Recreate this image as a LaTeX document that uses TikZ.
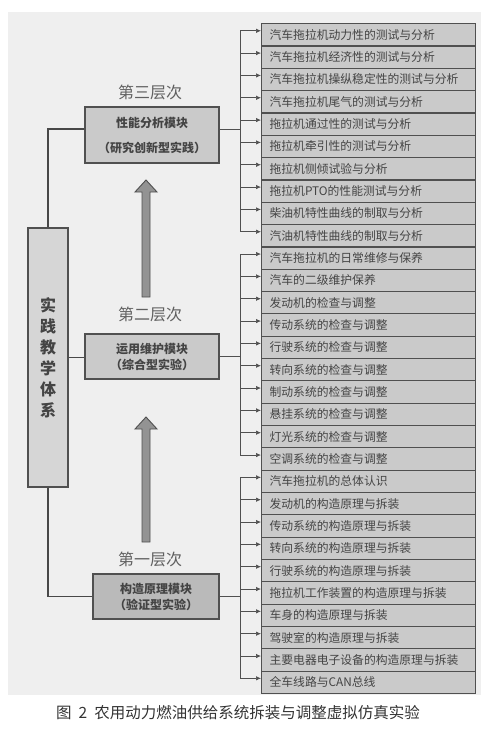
\documentclass[tikz,border=0pt]{standalone}
\usepackage{fontspec}
\setmainfont{Noto Sans CJK SC}
\usepackage{tikz}
\usetikzlibrary{calc}
\usetikzlibrary{positioning}
\usetikzlibrary{arrows.meta}
\definecolor{bggray}{HTML}{EFEFEF}
\definecolor{boxgray}{HTML}{CACACA}
\definecolor{sysgray}{HTML}{D6D6D6}
\definecolor{linegray}{HTML}{505050}
\definecolor{txtgray}{HTML}{444444}
\newcommand{\levelarrow}[3]{\filldraw[uparr] (#1-4,#2) -- (#1-4,#3+12) -- (#1-11,#3+12) -- (#1,#3) -- (#1+11,#3+12) -- (#1+4,#3+12) -- (#1+4,#2) -- cycle;}

\begin{document}
\begin{tikzpicture}[x=1pt,y=-1pt]
\tikzstyle{row}=[rectangle,draw=linegray,line width=1.2pt,fill=boxgray,anchor=north west,minimum width=214pt,minimum height=22.33pt,text width=198pt,inner xsep=8pt,align=left,text=txtgray,font=\fontsize{11.8}{14}\selectfont]
\tikzstyle{module}=[rectangle,draw=linegray,line width=1.2pt,fill=boxgray,align=center,text=txtgray,font=\bfseries\fontsize{12}{16}\selectfont]
\tikzstyle{level}=[text=txtgray!85,font=\fontsize{16}{18}\selectfont]
\tikzstyle{tip}=[draw=linegray,line width=0.7pt,-{Latex[length=5pt,width=4.5pt]}]
\tikzstyle{link}=[draw=linegray!90!black,line width=1.4pt]
\tikzstyle{uparr}=[draw=linegray,line width=0.9pt,fill=gray!85]
\useasboundingbox (0,0) rectangle (484,729);
\fill[bggray] (8,12) rectangle (481,695);
% right column
\foreach \t [count=\i] in {汽车拖拉机动力性的测试与分析,汽车拖拉机经济性的测试与分析,汽车拖拉机操纵稳定性的测试与分析,汽车拖拉机尾气的测试与分析,拖拉机通过性的测试与分析,拖拉机牵引性的测试与分析,拖拉机侧倾试验与分析,拖拉机PTO的性能测试与分析,柴油机特性曲线的制取与分析,汽油机特性曲线的制取与分析,
汽车拖拉机的日常维修与保养,汽车的二级维护保养,发动机的检查与调整,传动系统的检查与调整,行驶系统的检查与调整,转向系统的检查与调整,制动系统的检查与调整,悬挂系统的检查与调整,灯光系统的检查与调整,空调系统的检查与调整,
汽车拖拉机的总体认识,发动机的构造原理与拆装,传动系统的构造原理与拆装,转向系统的构造原理与拆装,行驶系统的构造原理与拆装,拖拉机工作装置的构造原理与拆装,车身的构造原理与拆装,驾驶室的构造原理与拆装,主要电器电子设备的构造原理与拆装,全车线路与CAN总线}
  \node[row] at(261, {23+22.33*(\i-1)}) (r\i) {\t};
\coordinate (bus) at(240, 0);
\foreach \i in {1,...,30}{
  \path ([yshift=4pt]r\i.west) coordinate (h\i) (h\i -| bus) coordinate (t\i);
  \draw[tip] (t\i) -- (h\i);
}
\draw[linegray,line width=0.7pt] (t1) -- (t10);
\draw[linegray,line width=0.7pt] (t11) -- (t20);
\draw[linegray,line width=0.7pt] (t21) -- (t30);
% modules
\node[module,minimum width=134pt,minimum height=56pt,font=\bfseries\fontsize{12}{25}\selectfont] at(152, 135) (m3) {性能分析模块\\（研究创新型实践）};
\node[module,minimum width=134pt,minimum height=45pt] at(152, 356.5) (m2) {运用维护模块\\（综合型实验）};
\node[module,minimum width=126pt,minimum height=45pt,fill=boxgray!92!black] at(156, 596.5) (m1) {构造原理模块\\（验证型实验）};
\node[level] at(150, 92) (l3) {第三层次};
\node[level] at(150, 314) (l2) {第二层次};
\node[level] at(150, 559) (l1) {第一层次};
\draw[linegray,line width=0.7pt] ([yshift=6pt]m3.east) -- ([yshift=6pt]m3.east -| bus);
\draw[linegray,line width=0.7pt] (m2.east) -- (m2.east -| bus);
\draw[linegray,line width=0.7pt] (m1.east) -- (m1.east -| bus);
% system box
\node[rectangle,draw=linegray,line width=1.2pt,fill=sysgray,minimum width=40pt,minimum height=259pt,align=center,text=txtgray,font=\bfseries\fontsize{16}{21}\selectfont] at(48, 357.5) (sys) {实\\践\\教\\学\\体\\系};
\draw[link] (sys.north) |- ([yshift=6pt]m3.west);
\draw[link] (sys.east) -- (sys.east -| m2.west);
\draw[link] (sys.south) |- (m1.west);
% level arrows
\levelarrow{146}{297}{180}
\levelarrow{146}{542}{417}
% caption
\node[text=black!80,font=\fontsize{15.5}{18}\selectfont] at(238, 713) (cap) {图\hspace{0.45em}2\hspace{0.45em}农用动力燃油供给系统拆装与调整虚拟仿真实验};
\end{tikzpicture}
\end{document}
